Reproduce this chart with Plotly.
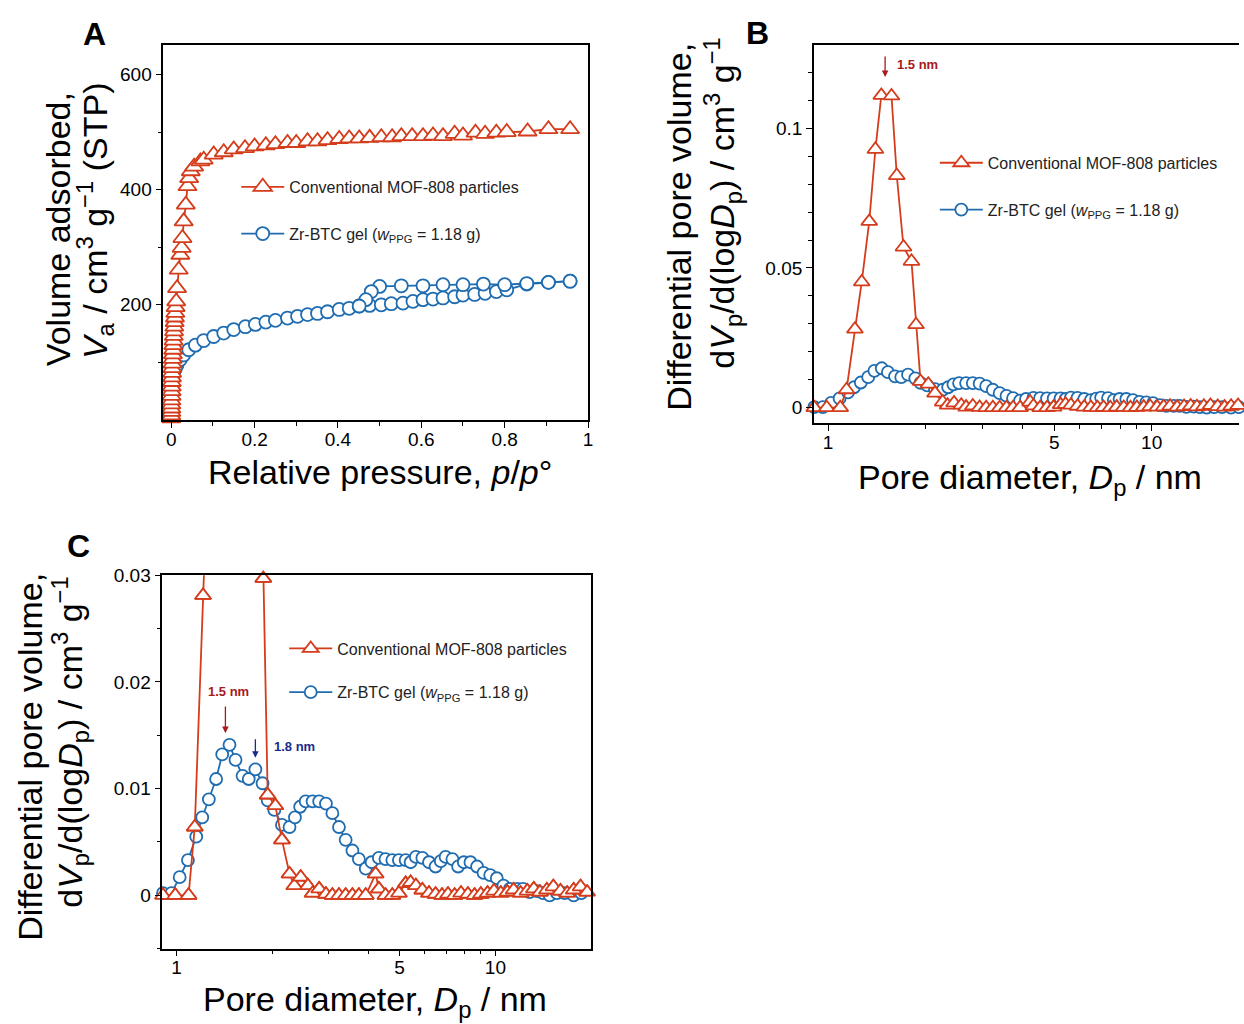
import plotly.graph_objects as go

# ---------------- Panel A : N2 isotherms ----------------
mof_p = [0.0001, 0.0002, 0.0003, 0.0004, 0.0005, 0.0006, 0.0008, 0.0010, 0.0012, 0.0015,
         0.0018, 0.0022, 0.0026, 0.0030, 0.0035, 0.0040, 0.0045, 0.0050, 0.0056, 0.0062,
         0.0068, 0.0075, 0.0082, 0.0090, 0.0098, 0.0106, 0.0120,
         0.014, 0.018, 0.022, 0.025, 0.027, 0.030, 0.035, 0.039, 0.043, 0.047, 0.055,
         0.070, 0.078, 0.102, 0.126, 0.150, 0.177, 0.200, 0.227, 0.250, 0.279, 0.300,
         0.327, 0.351, 0.375, 0.403, 0.427, 0.451, 0.476, 0.504, 0.530, 0.552, 0.578,
         0.604, 0.628, 0.652, 0.680, 0.700, 0.730, 0.753, 0.780, 0.805, 0.855, 0.905, 0.957]
mof_va = [3, 8, 14, 20, 27, 34, 42, 50, 58, 66,
          74, 82, 90, 98, 106, 114, 122, 130, 138, 146,
          154, 162, 170, 178, 186, 196, 206,
          229, 261, 287, 299, 316, 345, 374, 406, 420, 432, 440,
          449, 452, 461, 465, 470, 472, 475, 477, 479, 481, 481,
          484, 484, 486, 488, 489, 489, 490, 491, 491, 493, 493,
          493, 494, 493, 497, 494, 499, 497, 499, 500, 501, 505, 505]

gel_ads_p = [0.0005, 0.001, 0.002, 0.004, 0.007, 0.010, 0.014, 0.022, 0.030, 0.042,
             0.058, 0.078, 0.102, 0.126, 0.150, 0.178, 0.202, 0.227, 0.250, 0.279,
             0.303, 0.327, 0.351, 0.375, 0.403, 0.427, 0.451, 0.476, 0.504, 0.528,
             0.556, 0.580, 0.604, 0.628, 0.652, 0.680, 0.700, 0.728, 0.753, 0.780,
             0.805, 0.853, 0.905, 0.957]
gel_ads_va = [20, 40, 60, 75, 85, 90, 96, 105, 113, 122,
              130, 138, 145, 151, 157, 162, 166, 170, 173, 177,
              180, 183, 185, 188, 192, 194, 198, 199, 200, 202,
              203, 206, 209, 210, 212, 214, 217, 218, 220, 223,
              226, 236, 239, 241]
gel_des_p = [0.957, 0.905, 0.853, 0.800, 0.749, 0.700, 0.652, 0.604, 0.552, 0.500, 0.480, 0.467, 0.451]
gel_des_va = [241, 239, 237, 235, 236, 235, 235, 233, 233, 232, 223, 209, 198]

# ---------------- Panels B & C : pore size distributions ----------------
mof_dp = [0.906, 0.99, 1.09, 1.14, 1.21, 1.27, 1.34, 1.40, 1.46, 1.57,
          1.63, 1.71, 1.81, 1.87, 1.93, 2.04, 2.14, 2.26, 2.34, 2.45,
          2.58, 2.67, 2.80, 2.94, 3.08, 3.23, 3.39, 3.56, 3.73, 3.92,
          4.21, 4.31, 4.52, 4.75, 4.98, 5.23, 5.42, 5.63, 5.90, 6.19,
          6.49, 6.80, 7.10, 7.45, 7.80, 8.20, 8.60, 9.00, 9.45, 9.90,
          10.4, 10.9, 11.4, 12.0, 12.6, 13.2, 13.8, 14.5, 15.2, 16.0,
          16.8, 17.6, 18.5, 19.4]
mof_dv = [0, 0, 0, 0.0064, 0.0281, 0.045, 0.0667, 0.0925, 0.1118, 0.1116,
          0.0831, 0.0575, 0.0524, 0.0297, 0.0094, 0.0084, 0.0052, 0.0020, 0.0009, 0.0017,
          0.0009, 0.0002, 0.0006, 0.0001, 0, 0, 0, 0, 0, 0,
          0.0020, 0.0006, 0, 0, 0.0002, 0.0011, 0.0012, 0.0009, 0.0005, 0.0002,
          0.0001, 0, 0.0001, 0, 0.0002, 0.0001, 0, 0.0001, 0.0002, 0.0004,
          0.0002, 0.0003, 0.0005, 0.0002, 0.0004, 0.0006, 0.0003, 0.0005, 0.0008, 0.0004,
          0.0002, 0.0005, 0.0008, 0.0003]
gel_dp = [0.906, 0.963, 1.022, 1.085, 1.152, 1.203, 1.262, 1.33, 1.39, 1.465,
          1.53, 1.61, 1.683, 1.766, 1.86, 1.93, 2.025, 2.14, 2.26, 2.35,
          2.44, 2.54, 2.67, 2.80, 2.94, 3.08, 3.23, 3.39, 3.56, 3.73,
          3.92, 4.09, 4.31, 4.52, 4.75, 4.98, 5.23, 5.42, 5.63, 5.90,
          6.19, 6.49, 6.74, 6.98, 7.33, 7.64, 7.96, 8.35, 8.76, 9.18,
          9.63, 10.1, 10.6, 11.1, 11.7, 12.2, 12.8, 13.5, 14.1, 14.8,
          15.6, 16.5, 17.6, 18.6]
gel_dv = [0.0002, 0.0002, 0.0017, 0.0033, 0.0055, 0.0073, 0.0090, 0.0109, 0.0132, 0.0141,
          0.0127, 0.0112, 0.0109, 0.0118, 0.0105, 0.0089, 0.0080, 0.0066, 0.0064, 0.0073,
          0.0083, 0.0088, 0.0088, 0.0088, 0.0086, 0.0077, 0.0064, 0.0052, 0.0042, 0.0034,
          0.0025, 0.0031, 0.0035, 0.0034, 0.0033, 0.0033, 0.0033, 0.0031, 0.0036, 0.0035,
          0.0031, 0.0027, 0.0032, 0.0036, 0.0034, 0.0027, 0.0031, 0.0031, 0.0027, 0.0021,
          0.0019, 0.0016, 0.0009, 0.0006, 0.0006, 0.0006, 0.0003, 0.0004, 0.0002, 0.0,
          0.0002, 0.0002, 0.0, 0.0002]

C_YMAX = 0.03  # upper limit of panel C's y axis

MOF_NAME = "Conventional MOF-808 particles"
GEL_NAME = "Zr-BTC gel (<i>w</i><sub>PPG</sub> = 1.18 g)"

RED = "#D43C1B"
BLUE = "#1F6CB0"
DARKRED = "#A8191C"
NAVY = "#1B2A8C"
FONT = "Liberation Sans, Arial, sans-serif"

fig = go.Figure()


def add(x, y, color, symbol, size, name, ax, legend, show, group, rank, clip=False, mode="lines+markers"):
    fig.add_trace(go.Scatter(
        x=x, y=y, mode=mode, name=name,
        line=dict(color=color, width=1.8),
        marker=dict(symbol=symbol, size=size, color="white",
                    line=dict(color=color, width=1.8)),
        xaxis="x" + ax, yaxis="y" + ax, legend=legend, showlegend=show,
        legendgroup=group, legendrank=rank, cliponaxis=clip))


# Panel A (blue first so red sits on top; legend order fixed by rank)
add(gel_ads_p, gel_ads_va, BLUE, "circle", 13, GEL_NAME, "", "legend", True, "ag", 2)
add(gel_des_p, gel_des_va, BLUE, "circle", 13, GEL_NAME, "", "legend", False, "ag", 2)
add(mof_p, mof_va, RED, "triangle-up", 16, MOF_NAME, "", "legend", True, "am", 1)
# Panel B
add(gel_dp, gel_dv, BLUE, "circle", 12, GEL_NAME, "2", "legend2", True, "bg", 2)
add(mof_dp, mof_dv, RED, "triangle-up", 14, MOF_NAME, "2", "legend2", True, "bm", 1)
# Panel C (red line clipped at the top; in-range red markers drawn unclipped on top)
add(gel_dp, gel_dv, BLUE, "circle", 12, GEL_NAME, "3", "legend3", True, "cg", 2, False)
add(mof_dp, mof_dv, RED, "triangle-up", 14, MOF_NAME, "3", "legend3", True, "cm", 1, True)
in_c = [i for i, v in enumerate(mof_dv) if v <= C_YMAX]
add([mof_dp[i] for i in in_c], [mof_dv[i] for i in in_c], RED, "triangle-up", 14, MOF_NAME,
    "3", "legend3", False, "cm", 1, False, "markers")

W, H = 1244, 1024


# screen-pixel targets -> layout pixels (compensates the capture's slight offset/scale)
def xs(x):
    return (x + 0.4) / 0.9966


def ys(y):
    return (y - 10.5) / 0.989


def px(x):
    return xs(x) / W


def py(y):
    return 1 - ys(y) / H


def legtop(center):
    return 1 - (ys(center) - 17) / H


axis_common = dict(showline=True, linecolor="black", linewidth=1.5, ticks="outside",
                   ticklen=6, tickwidth=1.2, tickcolor="black", showgrid=False,
                   zeroline=False, tickfont=dict(family=FONT, size=19, color="black"))
xaxis_extra = dict(ticklabelstandoff=-5)
minor_common = dict(ticks="outside", ticklen=4, tickwidth=1.2, tickcolor="black", showgrid=False)

fig.update_layout(
    width=W, height=H, margin=dict(l=0, r=0, t=0, b=0),
    paper_bgcolor="white", plot_bgcolor="white",
    font=dict(family=FONT, color="black"),
    xaxis=dict(domain=[px(163), px(588)], range=[-0.019, 1.0], anchor="y", mirror=True,
               tickvals=[0, 0.2, 0.4, 0.6, 0.8, 1], ticktext=["0", "0.2", "0.4", "0.6", "0.8", "1"],
               minor=dict(tickvals=[0.1, 0.3, 0.5, 0.7, 0.9], **minor_common),
               **axis_common, **xaxis_extra),
    yaxis=dict(domain=[py(420), py(45)], range=[0, 652], anchor="x", mirror=True,
               tickvals=[200, 400, 600], ticktext=["200", "400", "600"],
               minor=dict(tickvals=[100, 300, 500], **minor_common), **axis_common),
    xaxis2=dict(type="log", domain=[px(814), 1.0], range=[-0.044, 1.27], anchor="y2", mirror=True,
                tickvals=[1, 5, 10], ticktext=["1", "5", "10"],
                minor=dict(tickvals=[2, 3, 4, 6, 7, 8, 9, 20], **minor_common),
                **axis_common, **xaxis_extra),
    yaxis2=dict(domain=[py(423), py(45)], range=[-0.0055, 0.13], anchor="x2", mirror=False,
                tickvals=[0, 0.05, 0.1], ticktext=["0", "0.05", "0.1"],
                minor=dict(tickvals=[0.01, 0.02, 0.03, 0.04, 0.06, 0.07, 0.08, 0.09, 0.11, 0.12],
                           **minor_common), **axis_common),
    xaxis3=dict(type="log", domain=[px(162), px(591)], range=[-0.045, 1.30], anchor="y3", mirror=True,
                tickvals=[1, 5, 10], ticktext=["1", "5", "10"],
                minor=dict(tickvals=[2, 3, 4, 6, 7, 8, 9, 20], **minor_common),
                **axis_common, **xaxis_extra),
    yaxis3=dict(domain=[py(948), py(575)], range=[-0.005, C_YMAX], anchor="x3", mirror=True,
                tickvals=[0, 0.01, 0.02, 0.03], ticktext=["0", "0.01", "0.02", "0.03"],
                minor=dict(tickvals=[-0.005, 0.005, 0.015, 0.025], **minor_common), **axis_common),
)

leg_common = dict(xanchor="left", yanchor="top", bgcolor="rgba(0,0,0,0)", itemwidth=43,
                  font=dict(family=FONT, size=16, color="#222"), traceorder="grouped")
fig.update_layout(
    legend=dict(x=px(236), y=legtop(187), tracegroupgap=23, **leg_common),
    legend2=dict(x=px(935), y=legtop(163), tracegroupgap=23, **leg_common),
    legend3=dict(x=px(284), y=legtop(648), tracegroupgap=20, **leg_common),
)

ann = []
TITLE = 34
# panel letters
for letter, xx, yy in [("A", 94, 34), ("B", 758, 33), ("C", 78, 546)]:
    ann.append(dict(text="<b>%s</b>" % letter, x=px(xx), y=py(yy), xref="paper", yref="paper",
                    showarrow=False, xanchor="center", yanchor="middle",
                    font=dict(family=FONT, size=32, color="black")))

# axis titles (each line its own text so the line spacing matches)
psd_l1 = "Differential pore volume,"
psd_l2 = ("d<i>V</i><sub>p</sub>/d(log<i>D</i><sub>p</sub>) / "
          "cm<sup>3</sup> g<sup>\u22121</sup>")
xtitle_psd = "Pore diameter, <i>D</i><sub>p</sub> / nm"
titles = [
    ("Volume adsorbed,", 57, 229, -90),
    ("<i>V</i><sub>a</sub> / cm<sup>3</sup> g<sup>\u22121</sup> (STP)", 94, 221, -90),
    ("Relative pressure, <i>p</i>/<i>p</i>\u00b0", 380, 472, 0),
    (psd_l1, 679, 227, -90),
    (psd_l2, 722, 203, -90),
    (xtitle_psd, 1030, 479, 0),
    (psd_l1, 30, 756, -90),
    (psd_l2, 70, 742, -90),
    (xtitle_psd, 375, 1001, 0),
]
for t, xx, yy, ang in titles:
    ann.append(dict(text=t, x=px(xx), y=py(yy), xref="paper", yref="paper", showarrow=False,
                    xanchor="center", yanchor="middle", textangle=ang,
                    font=dict(family=FONT, size=TITLE, color="black")))

# peak markers
arrow = dict(showarrow=True, arrowhead=2, arrowsize=1, arrowwidth=1.3, ax=0, text="")
ann.append(dict(x=0.1761, y=0.1184, xref="x2", yref="y2", ay=-22, arrowcolor=DARKRED, **arrow))
ann.append(dict(text="<b>1.5 nm</b>", x=0.2057, y=0.1227, xref="x2", yref="y2", showarrow=False,
                xanchor="left", yanchor="middle", font=dict(family=FONT, size=13, color=DARKRED)))
ann.append(dict(x=0.153, y=0.0152, xref="x3", yref="y3", ay=-28, arrowcolor=DARKRED, **arrow))
ann.append(dict(text="<b>1.5 nm</b>", x=0.163, y=0.0191, xref="x3", yref="y3", showarrow=False,
                xanchor="center", yanchor="middle", font=dict(family=FONT, size=13, color=DARKRED)))
ann.append(dict(x=0.247, y=0.0129, xref="x3", yref="y3", ay=-20, arrowcolor=NAVY, **arrow))
ann.append(dict(text="<b>1.8 nm</b>", x=0.300, y=0.0139, xref="x3", yref="y3", showarrow=False,
                xanchor="left", yanchor="middle", font=dict(family=FONT, size=13, color=NAVY)))

fig.update_layout(annotations=ann)
fig.write_html("out.html")
